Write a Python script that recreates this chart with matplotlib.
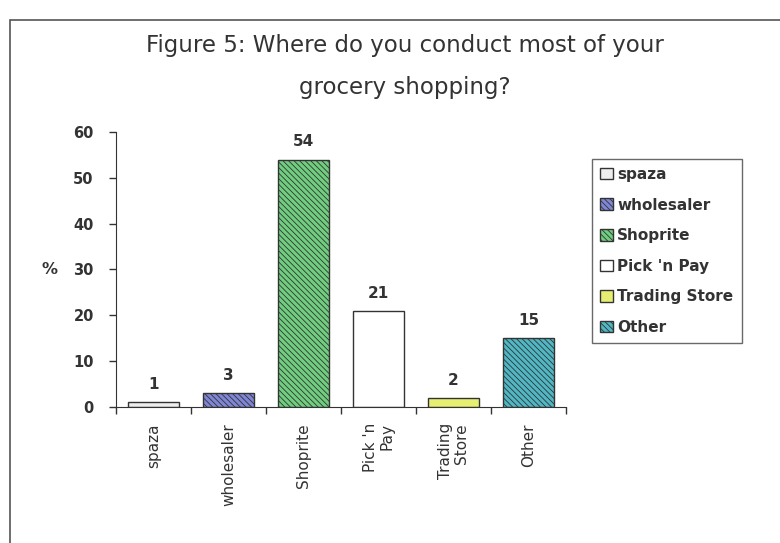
import matplotlib
matplotlib.use("Agg")
import matplotlib.pyplot as plt
from matplotlib.patches import Rectangle, Patch

categories = ["spaza", "wholesaler", "Shoprite", "Pick 'n Pay", "Trading Store", "Other"]
tick_labels = ["spaza", "wholesaler", "Shoprite", "Pick 'n\nPay", "Trading\nStore", "Other"]
values = [1, 3, 54, 21, 2, 15]
colors = ["#eeeeee", "#7f86d6", "#6fcf7f", "#ffffff", "#e6ef72", "#4fb8c4"]
hatches = ["", "\\\\\\\\\\\\", "\\\\\\\\\\\\", "", "", "\\\\\\\\\\\\"]
title = "Figure 5: Where do you conduct most of your\ngrocery shopping?"

plt.rcParams['font.family'] = ['DejaVu Sans']
plt.rcParams['hatch.linewidth'] = 0.6

fig = plt.figure(figsize=(7.8, 5.43), dpi=100)
fig.patch.set_facecolor("white")

# outer frame
fig.add_artist(Rectangle((0.013, -0.05), 1.1, 1.013, transform=fig.transFigure,
                         fill=False, edgecolor="#555555", linewidth=1.2))

ax = fig.add_axes([0.1487, 0.2505, 0.5769, 0.5064])
x = list(range(len(categories)))
for i in x:
    ax.bar(i, values[i], width=0.67, color=colors[i], edgecolor="#333333",
           hatch=hatches[i], linewidth=1.0)
    ax.text(i, values[i] + 2.2, str(values[i]), ha="center", va="bottom",
            fontsize=11, fontweight="bold", color="#333333")

ax.set_xlim(-0.5, len(categories) - 0.5)
ax.set_ylim(0, 60)
ax.set_yticks(range(0, 61, 10))
ax.tick_params(axis="y", labelsize=10.5, colors="#333333", length=5, width=1.0, pad=11)
for lab in ax.get_yticklabels():
    lab.set_fontweight("bold")
ax.set_xticks([i - 0.5 for i in range(len(categories) + 1)])
ax.set_xticklabels([])
ax.tick_params(axis="x", length=5, width=1.0, direction="out", colors="#333333")
for i, lab in enumerate(tick_labels):
    ax.text(i, -3.5, lab, rotation=90, ha="center", va="top", fontsize=11,
            color="#333333", multialignment="right", linespacing=1.15)

for s in ["top", "right"]:
    ax.spines[s].set_visible(False)
ax.spines["left"].set_color("#333333")
ax.spines["bottom"].set_color("#333333")
ax.text(-0.147, 0.5, "%", transform=ax.transAxes, fontsize=11.5, fontweight="bold",
        ha="center", va="center", color="#333333")

fig.text(0.519, 0.877, title, ha="center", va="center", fontsize=16.5,
         color="#333333", linespacing=2.05)

handles = [Patch(facecolor=colors[i], edgecolor="#333333", hatch=hatches[i]) for i in x]
leg = fig.legend(handles, categories, loc="upper left", bbox_to_anchor=(0.759, 0.708),
                 frameon=True, fancybox=False, edgecolor="#444444", fontsize=11,
                 handlelength=0.8, handleheight=0.8, handletextpad=0.3,
                 labelspacing=1.02, borderpad=0.55, borderaxespad=0)
for t in leg.get_texts():
    t.set_fontweight("bold")
    t.set_color("#333333")
leg.get_frame().set_linewidth(1.0)

fig.savefig("out.png", dpi=100, facecolor="white")
